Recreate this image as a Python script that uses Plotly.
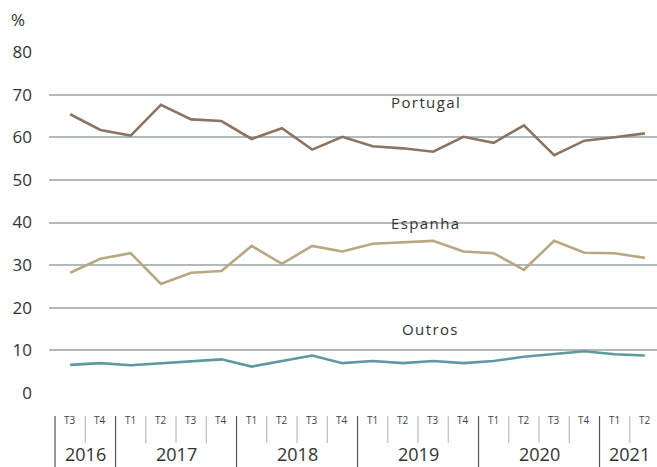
import plotly.graph_objects as go

quarters = ["T3", "T4",
            "T1", "T2", "T3", "T4",
            "T1", "T2", "T3", "T4",
            "T1", "T2", "T3", "T4",
            "T1", "T2", "T3", "T4",
            "T1", "T2"]
years = ["2016", "2017", "2018", "2019", "2020", "2021"]
year_counts = [2, 4, 4, 4, 4, 2]

portugal = [65.4, 61.7, 60.4, 67.6, 64.2, 63.8, 59.6, 62.1, 57.1, 60.1,
            57.9, 57.4, 56.6, 60.1, 58.7, 62.8, 55.8, 59.2, 60.0, 60.9]
espanha = [28.2, 31.5, 32.8, 25.6, 28.2, 28.6, 34.5, 30.3, 34.5, 33.2,
           35.0, 35.4, 35.7, 33.2, 32.8, 28.9, 35.7, 32.9, 32.8, 31.7]
outros = [6.6, 7.0, 6.5, 7.0, 7.5, 7.9, 6.2, 7.5, 8.8, 7.0,
          7.5, 7.0, 7.5, 7.0, 7.5, 8.5, 9.1, 9.8, 9.1, 8.8]

series_names = ["Portugal", "Espanha", "Outros"]
series_colors = ["#8c7462", "#b8a882", "#5e98a3"]

x = list(range(len(quarters)))
fig = go.Figure()
for name, vals, col in zip(series_names, [portugal, espanha, outros], series_colors):
    fig.add_trace(go.Scatter(x=x, y=vals, mode="lines", name=name,
                             line=dict(color=col, width=2.6), showlegend=False,
                             cliponaxis=False))

FONT = "Open Sans"
# series labels
label_pos = [(11.75, 68.3), (11.75, 39.9), (11.9, 15.0)]
for name, (lx, ly) in zip(series_names, label_pos):
    fig.add_annotation(x=lx, y=ly, xref="x", yref="y",
                       text='<span style="letter-spacing:1.4px">' + name + '</span>',
                       showarrow=False,
                       font=dict(family=FONT, size=15, color="#333333"))

PH = 341.0
def py(pix_below):
    return -pix_below / PH

shapes = []
start = 0
for yr, cnt in zip(years, year_counts):
    left = start - 0.5
    shapes.append(dict(type="line", xref="x", yref="paper", x0=left, x1=left,
                       y0=py(23), y1=py(80), line=dict(color="#555555", width=1.2)))
    fig.add_annotation(x=start + (cnt - 1) / 2, y=py(61), xref="x", yref="paper",
                       text=yr, showarrow=False, yanchor="middle",
                       font=dict(family=FONT, size=18, color="#333333"))
    for k in range(1, cnt):
        b = start + k - 0.5
        shapes.append(dict(type="line", xref="x", yref="paper", x0=b, x1=b,
                           y0=py(23), y1=py(50), line=dict(color="#bbbbbb", width=1.2)))
    start += cnt
shapes.append(dict(type="line", xref="x", yref="paper", x0=start - 0.5, x1=start - 0.5,
                   y0=py(23), y1=py(50), line=dict(color="#bbbbbb", width=1.2)))
for i, q in enumerate(quarters):
    fig.add_annotation(x=i, y=py(27), xref="x", yref="paper", text=q,
                       showarrow=False, yanchor="middle",
                       font=dict(family=FONT, size=10, color="#444444"))

fig.add_annotation(x=-31 / 608, y=1 + 33 / PH, xref="paper", yref="paper", text="%",
                   showarrow=False, xanchor="center", yanchor="middle",
                   font=dict(family=FONT, size=17, color="#333333"))

fig.update_layout(
    width=657, height=467,
    margin=dict(l=49, r=0, t=52, b=74),
    plot_bgcolor="white", paper_bgcolor="white",
    shapes=shapes,
    xaxis=dict(range=[-0.70, 19.40], showgrid=False, zeroline=False,
               showticklabels=False, ticks=""),
    yaxis=dict(range=[0, 80], tickvals=[0, 10, 20, 30, 40, 50, 60, 70, 80],
               showgrid=True, gridcolor="#b3b8bb", gridwidth=1.5, zeroline=False,
               ticks="", ticklabelstandoff=16, automargin=False,
               tickfont=dict(family=FONT, size=17, color="#333333")),
)

fig.write_html("out.html", config={"displayModeBar": False},
               post_script="document.body.style.margin='0';document.body.style.overflow='hidden';")
